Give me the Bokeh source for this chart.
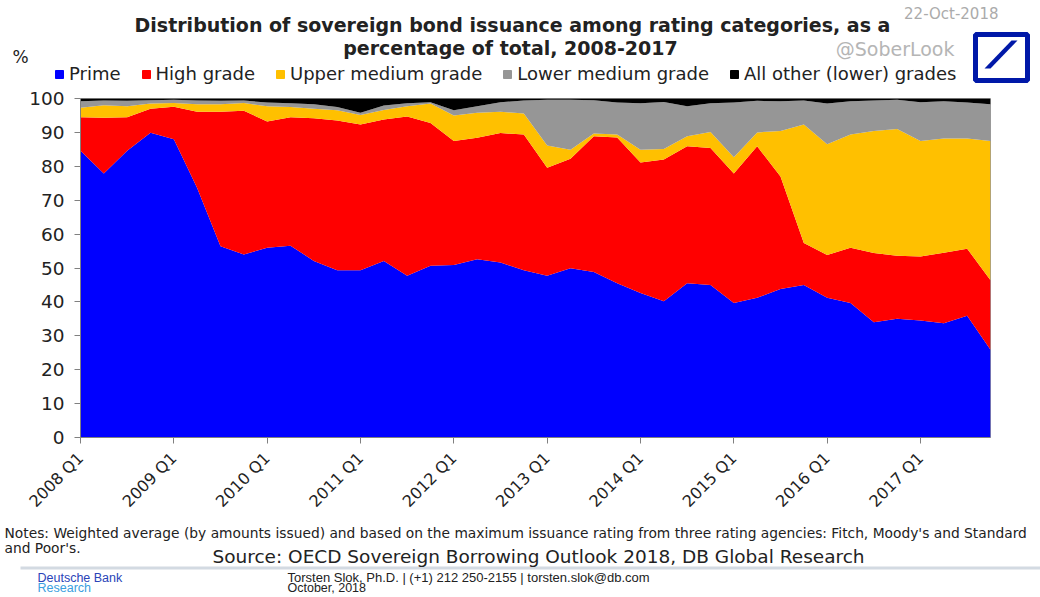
import math
from bokeh.plotting import figure
from bokeh.layouts import column
from bokeh.models import ColumnDataSource, Label, FixedTicker, Range1d, Legend, LegendItem
from bokeh.embed import file_html
from bokeh.resources import INLINE

# ---------------- data ----------------
quarters = [f"{y} Q{q}" for y in range(2008, 2018) for q in range(1, 5)]
tick_quarters = ["2008 Q1", "2009 Q1", "2010 Q1", "2011 Q1", "2012 Q1",
                 "2013 Q1", "2014 Q1", "2015 Q1", "2016 Q1", "2017 Q1"]
y_ticks = [0, 10, 20, 30, 40, 50, 60, 70, 80, 90, 100]

prime = [84.6, 77.9, 84.6, 89.9, 88.0, 73.6, 56.4, 54.0, 56.0, 56.6,
         52.1, 49.3, 49.3, 52.1, 47.7, 50.7, 50.9, 52.6, 51.6, 49.3,
         47.7, 49.9, 48.8, 45.5, 42.6, 40.2, 45.5, 45.0, 39.7, 41.2,
         43.8, 45.0, 41.2, 39.7, 34.0, 35.0, 34.5, 33.7, 35.9, 25.9]
high_grade = [9.9, 16.4, 9.9, 7.1, 9.6, 22.5, 39.7, 42.4, 37.2, 37.9,
              42.1, 44.2, 43.0, 41.7, 47.0, 42.1, 36.6, 35.8, 38.2, 40.1,
              31.9, 32.3, 40.1, 43.0, 38.5, 41.8, 40.4, 40.4, 38.2, 44.7,
              33.2, 12.4, 12.6, 16.3, 20.4, 18.6, 18.9, 20.8, 19.8, 20.5]
upper_medium = [2.8, 3.7, 3.2, 1.5, 1.1, 2.2, 2.2, 2.3, 4.5, 3.0,
                2.8, 3.0, 2.8, 2.8, 3.0, 5.7, 7.5, 7.4, 6.3, 6.2,
                6.5, 2.7, 0.8, 0.9, 3.8, 3.1, 3.0, 4.7, 4.8, 4.1,
                13.4, 34.9, 32.7, 33.4, 36.0, 37.4, 34.1, 33.7, 32.5, 41.1]
lower_medium = [1.9, 1.4, 1.6, 1.0, 0.9, 1.1, 1.0, 0.7, 1.1, 1.1,
                1.3, 1.0, 0.7, 1.3, 0.9, 0.4, 1.5, 1.9, 2.8, 3.8,
                13.5, 14.7, 9.8, 9.4, 13.7, 13.9, 8.8, 8.5, 16.1, 9.3,
                8.8, 7.1, 12.0, 9.8, 9.0, 8.6, 11.4, 11.0, 10.6, 10.8]
all_other = [0.8, 0.6, 0.7, 0.5, 0.4, 0.6, 0.7, 0.6, 1.2, 1.4,
             1.7, 2.5, 4.2, 2.1, 1.4, 1.1, 3.5, 2.3, 1.1, 0.6,
             0.4, 0.4, 0.5, 1.2, 1.4, 1.0, 2.3, 1.4, 1.2, 0.7,
             0.8, 0.6, 1.5, 0.8, 0.6, 0.4, 1.1, 0.8, 1.2, 1.7]

series_names = ["prime", "high", "upper", "lower", "other"]
series_labels = ["Prime", "High grade", "Upper medium grade",
                 "Lower medium grade", "All other (lower) grades"]
series_colors = ["#0000FF", "#FF0000", "#FFC000", "#969696", "#000000"]

source = ColumnDataSource(dict(
    x=list(range(len(quarters))),
    prime=prime, high=high_grade, upper=upper_medium,
    lower=lower_medium, other=all_other,
))

FONT = "DejaVu Sans"
FONT2 = "Liberation Sans"
W = 1040
HEAD_H, MAIN_H, FOOT_H = 86, 434, 77


def blank(h, y0):
    f = figure(width=W, height=h, x_range=Range1d(0, W), y_range=Range1d(y0 + h, y0),
               output_backend="svg", toolbar_location=None,
               x_axis_type=None, y_axis_type=None, frame_align=False,
               min_border=0, min_border_left=0, min_border_right=0,
               min_border_top=0, min_border_bottom=0)
    f.outline_line_color = None
    f.xgrid.visible = False
    f.ygrid.visible = False
    f.background_fill_color = "white"
    f.border_fill_color = "white"
    return f


def txt(f, text, x, y, size, color="#222222", bold=False, align="left", font=FONT):
    f.add_layout(Label(x=x, y=y, text=text, text_font_size=f"{size}px",
                       text_color=color, text_font=font,
                       text_font_style="bold" if bold else "normal",
                       text_align=align, text_baseline="middle"))


# ---------------- header ----------------
head = blank(HEAD_H, 0)
txt(head, "Distribution of sovereign bond issuance among rating categories, as a", 512, 24, 19, bold=True, align="center")
txt(head, "percentage of total, 2008-2017", 510, 47, 19, bold=True, align="center")
txt(head, "%", 12, 56, 17)
txt(head, "22-Oct-2018", 998, 13, 15, color="#ababab", align="right")
txt(head, "@SoberLook", 954, 48, 19, color="#b5b5b5", align="right")

# Deutsche Bank logo
head.quad(left=[975], right=[1027], top=[34], bottom=[80],
          fill_alpha=0, line_color="#0018A8", line_width=5)
head.patch(x=[984, 990, 1017, 1011], y=[68, 68, 40, 40], fill_color="#0018A8", line_alpha=0)

# legend (swatches mirror the stacked series)
legend_items = []
for lab, col in zip(series_labels, series_colors):
    r = head.quad(left=[-30], right=[-20], top=[-30], bottom=[-20],
                  fill_color=col, line_color=col)
    legend_items.append(LegendItem(label=lab, renderers=[r]))
lg = Legend(items=legend_items, orientation="horizontal", location=(54, 2),
            padding=0, margin=0, spacing=20, label_standoff=5,
            glyph_width=10, glyph_height=10, border_line_alpha=0,
            background_fill_alpha=0, label_text_font=FONT,
            label_text_font_size="18px", label_text_color="#222222")
head.add_layout(lg, "center")

# ---------------- main chart ----------------
p = figure(width=W, height=MAIN_H,
           x_range=Range1d(0, len(quarters) - 1), y_range=Range1d(0, 100),
           output_backend="svg", toolbar_location=None, frame_align=False,
           min_border_left=80, min_border_right=50,
           min_border_top=12, min_border_bottom=73)
p.background_fill_color = "white"
p.border_fill_color = "white"
p.outline_line_color = "#9a9a9a"
p.xgrid.visible = False
p.ygrid.visible = False

p.varea_stack(stackers=series_names, x="x", color=series_colors, source=source)

p.yaxis.ticker = FixedTicker(ticks=y_ticks)
p.xaxis.ticker = FixedTicker(ticks=[quarters.index(t) for t in tick_quarters])
p.xaxis.major_label_overrides = {quarters.index(t): t for t in tick_quarters}
p.xaxis.major_label_orientation = math.pi / 4
for ax in (p.xaxis, p.yaxis):
    ax.axis_line_color = "#808080"
    ax.major_tick_line_color = "#808080"
    ax.minor_tick_line_color = None
    ax.major_tick_in = 0
    ax.major_tick_out = 6
    ax.major_label_text_font = FONT
    ax.major_label_text_color = "#222222"
p.yaxis.major_label_text_font_size = "18.5px"
p.yaxis.major_label_standoff = 10
p.xaxis.major_label_text_font_size = "16px"
p.xaxis.major_label_standoff = 12

# ---------------- footer ----------------
foot = blank(FOOT_H, HEAD_H + MAIN_H)
txt(foot, "Notes: Weighted average (by amounts issued) and based on the maximum issuance rating "
    "from three rating agencies: Fitch, Moody's and Standard", 4, 532, 13.8)
txt(foot, "and Poor's.", 4, 547, 13.8)
txt(foot, "Source: OECD Sovereign Borrowing Outlook 2018, DB Global Research", 538, 556, 18.5, align="center")
foot.quad(left=[20], right=[1040], top=[566], bottom=[569], fill_color="#d3dae2", line_alpha=0)
txt(foot, "Deutsche Bank", 37, 577, 12.5, color="#2a44b8", font=FONT2)
txt(foot, "Research", 37, 587, 12.5, color="#3aa0e0", font=FONT2)
txt(foot, "Torsten Slok, Ph.D. | (+1) 212 250-2155 | torsten.slok@db.com", 287, 577, 13, font=FONT2)
txt(foot, "October, 2018", 287, 587, 12.5, font=FONT2)

layout = column(head, p, foot, spacing=0)
open("out.html", "w").write(file_html(layout, INLINE))
